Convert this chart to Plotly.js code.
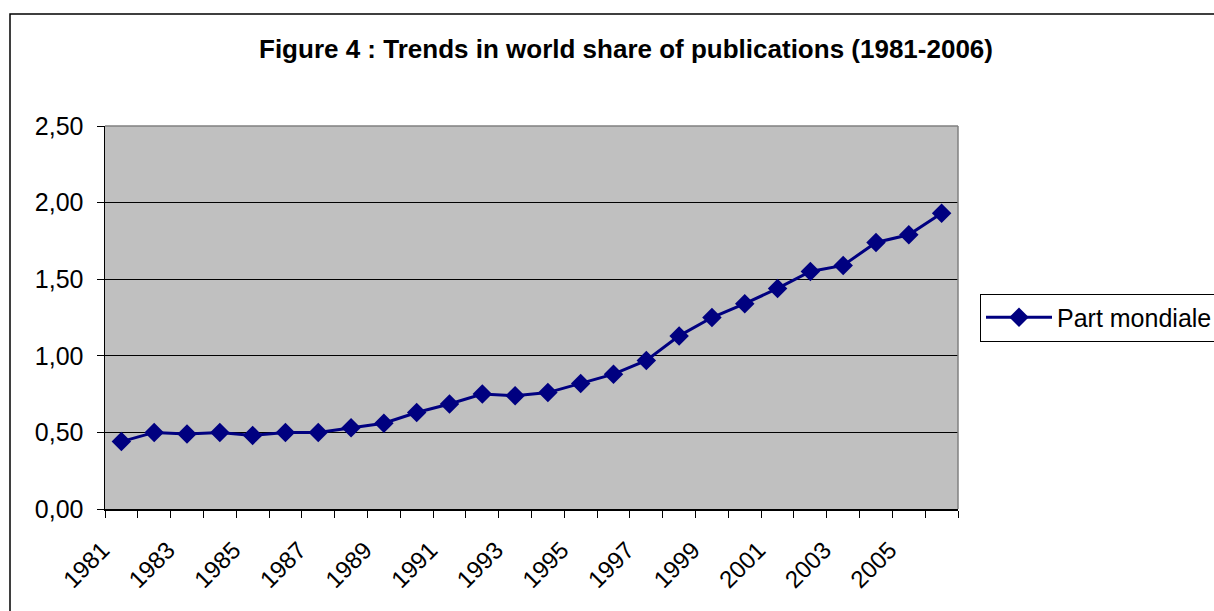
<!DOCTYPE html>
<html>
<head>
<meta charset="utf-8">
<script src="https://cdn.plot.ly/plotly-3.0.1.min.js"></script>
<style>html,body{margin:0;padding:0;background:#fff;}#chart{width:1214px;height:611px;}</style>
</head>
<body>
<div id="chart"></div>
<script>
const years = [1981,1982,1983,1984,1985,1986,1987,1988,1989,1990,1991,1992,1993,1994,1995,1996,1997,1998,1999,2000,2001,2002,2003,2004,2005,2006];
const partMondiale = [0.44,0.50,0.49,0.50,0.48,0.50,0.50,0.53,0.56,0.63,0.685,0.75,0.74,0.76,0.82,0.88,0.97,1.13,1.25,1.34,1.44,1.55,1.59,1.74,1.79,1.93];
const xTickYears = [1981,1983,1985,1987,1989,1991,1993,1995,1997,1999,2001,2003,2005];
const yTicks = [0,0.5,1,1.5,2,2.5];
const seriesName = "Part mondiale";
const titleText = "Figure 4 : Trends in world share of publications (1981-2006)";

const trace = {
  x: years, y: partMondiale, type: 'scatter', mode: 'lines+markers', name: seriesName,
  line: {color: '#000080', width: 3},
  marker: {symbol: 'diamond', size: 15, color: '#000080'}
};

const layout = {
  width: 1214, height: 611,
  margin: {l: 105, r: 256, t: 126, b: 102, autoexpand: false},
  paper_bgcolor: '#ffffff', plot_bgcolor: '#c0c0c0',
  separators: ', ',
  font: {family: 'Liberation Sans, Arial, sans-serif', color: '#000', size: 24},
  title: {text: '<b>' + titleText + '</b>', x: 626/1214, xanchor: 'center', xref: 'container', y: 1 - 49/611, yanchor: 'middle', yref: 'container',
    font: {family: 'Liberation Sans, Arial, sans-serif', size: 26, color: '#000'}},
  xaxis: {
    type: 'linear', range: [1980.5, 2006.5], tickmode: 'array', tickvals: xTickYears, ticktext: xTickYears.map(String),
    ticks: '', tickangle: -45, showgrid: false, zeroline: false,
    showline: true, linecolor: '#000', linewidth: 1.5,
    tickfont: {size: 24}, ticklabelshift: -19, ticklabelstandoff: 16,
    minor: {ticks: 'outside', tick0: 1980.5, dtick: 1, ticklen: 7, tickcolor: '#000', tickwidth: 1, showgrid: false}
  },
  yaxis: {
    range: [0, 2.5], tickmode: 'array', tickvals: yTicks, tickformat: '.2f',
    ticks: 'outside', ticklen: 7, tickcolor: '#000',
    showgrid: true, gridcolor: '#000', gridwidth: 1, zeroline: false,
    showline: true, linecolor: '#000', linewidth: 1.5,
    tickfont: {size: 25}, ticklabelstandoff: 8
  },
  showlegend: true,
  legend: {x: (980-105)/853, xanchor: 'left', y: 0.5, yanchor: 'middle', bgcolor: '#fff', bordercolor: '#000', borderwidth: 1,
    font: {size: 25}, itemwidth: 66},
  shapes: [
    {type: 'line', xref: 'paper', yref: 'paper', x0: 0, x1: 1, y0: 1, y1: 1, line: {color: '#808080', width: 1.5}},
    {type: 'line', xref: 'paper', yref: 'paper', x0: 1, x1: 1, y0: 0, y1: 1, line: {color: '#808080', width: 1.5}},
    {type: 'rect', xref: 'paper', yref: 'paper', x0: (10-105)/853, x1: 2, y0: -1, y1: (509-14)/383, line: {color: '#000', width: 1.5}, fillcolor: 'rgba(0,0,0,0)', layer: 'below'}
  ]
};

Plotly.newPlot('chart', [trace], layout, {displayModeBar: false, staticPlot: true});
</script>
</body>
</html>
